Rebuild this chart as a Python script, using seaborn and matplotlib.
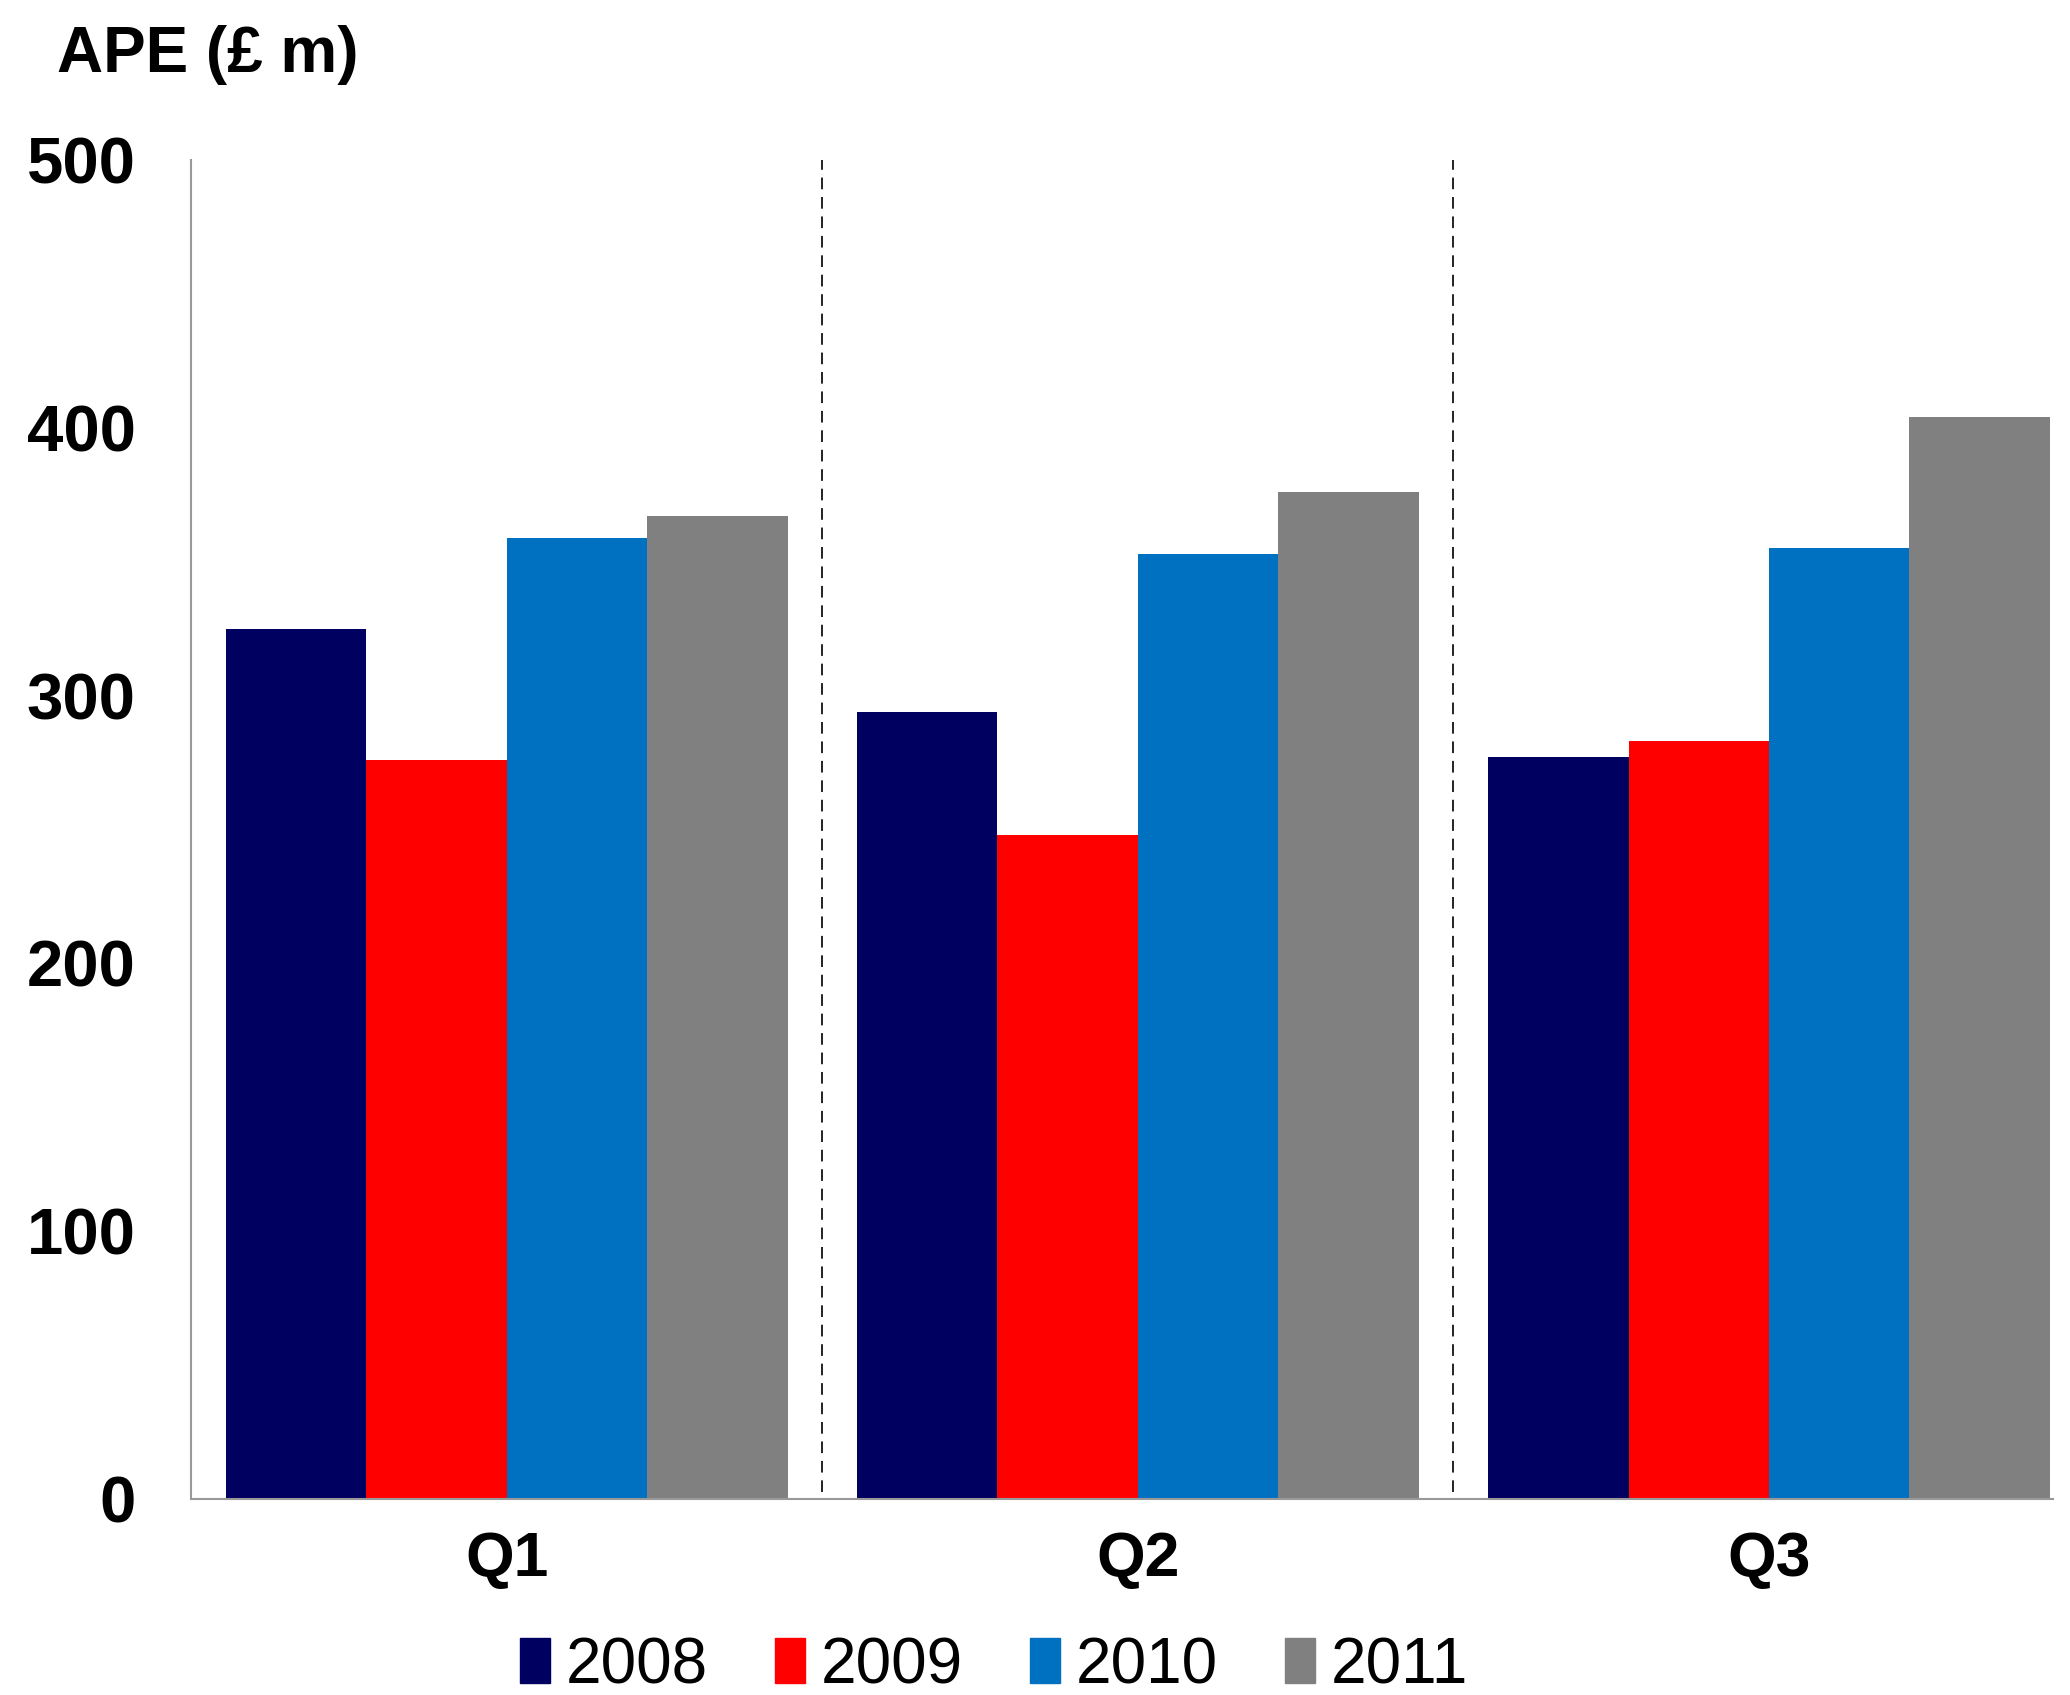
import matplotlib
matplotlib.use("Agg")
import matplotlib.pyplot as plt
import matplotlib.patches as mpatches
import pandas as pd
import seaborn as sns

quarters = ["Q1", "Q2", "Q3"]
years = ["2008", "2009", "2010", "2011"]
ape_2008 = [325, 294, 277]
ape_2009 = [276, 248, 283]
ape_2010 = [359, 353, 355]
ape_2011 = [367, 376, 404]
year_colors = ["#000060", "#FF0000", "#0070C0", "#808080"]
y_ticks = [0, 100, 200, 300, 400, 500]

rows = []
for year, vals in zip(years, [ape_2008, ape_2009, ape_2010, ape_2011]):
    for q, v in zip(quarters, vals):
        rows.append({"quarter": q, "year": year, "ape": v})
df = pd.DataFrame(rows)

sns.set_theme(style="white")
plt.rcParams["font.family"] = ["Liberation Sans", "DejaVu Sans"]
plt.rcParams["text.color"] = "black"
plt.rcParams["xtick.color"] = "black"
plt.rcParams["ytick.color"] = "black"

fig = plt.figure(figsize=(20.7, 16.95), dpi=100)
ax = fig.add_axes([0.0923, 0.1156, 0.8995, 0.79])

sns.barplot(
    data=df, x="quarter", y="ape", hue="year", order=quarters, hue_order=years,
    palette=year_colors, saturation=1, width=0.89, linewidth=0, ax=ax,
)
if ax.get_legend() is not None:
    ax.get_legend().remove()

ax.set_xlim(-0.5, 2.45)
ax.set_ylim(0, 500)
ax.set_yticks(y_ticks)
ax.set_yticklabels([str(t) for t in y_ticks], fontsize=47, fontweight="bold", color="black")
ax.set_xticklabels(quarters, fontsize=45, fontweight="bold", color="black")
ax.tick_params(axis="y", length=0, pad=40)
ax.tick_params(axis="x", length=0, pad=22)
ax.set_xlabel("")
ax.set_ylabel("")

for side in ["top", "right"]:
    ax.spines[side].set_visible(False)
for side in ["left", "bottom"]:
    ax.spines[side].set_color("#999999")
    ax.spines[side].set_linewidth(1.5)

for xsep in [0.5, 1.5]:
    ax.axvline(xsep, ymin=0.005, ymax=1.0, color="#222222", lw=1.4, ls=(0, (6, 4)))

fig.text(57 / 2070, 1 - 72 / 1695, "APE (£ m)", fontsize=46, fontweight="bold",
         ha="left", va="baseline", color="black")

handles = [mpatches.Patch(color=c, label=y) for c, y in zip(year_colors, years)]
fig.legend(handles=handles, loc="center", bbox_to_anchor=(994 / 2070, 1 - 1666 / 1695),
           ncol=4, frameon=False, fontsize=46, handlelength=0.47, handleheight=0.7,
           handletextpad=0.25, columnspacing=1.05, borderpad=0, labelcolor="black")

fig.savefig("out.png", dpi=100)
